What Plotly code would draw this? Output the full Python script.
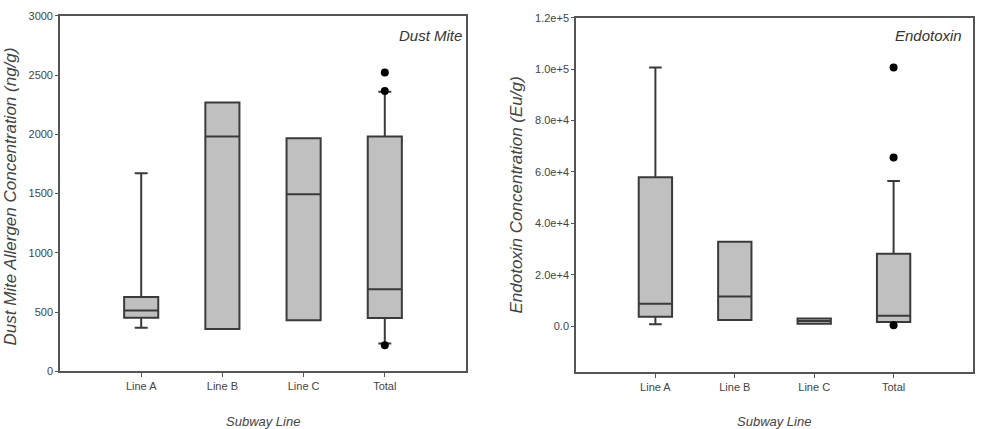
import plotly.graph_objects as go

categories = ["Line A", "Line B", "Line C", "Total"]

# Dust mite allergen (ng/g)
dm_q1 = [454, 358, 432, 451]
dm_median = [514, 1981, 1495, 694]
dm_q3 = [628, 2268, 1967, 1981]
dm_low = [369, 358, 432, 235]
dm_high = [1672, 2268, 1967, 2358]
dm_out_x = ["Total", "Total", "Total"]
dm_out_y = [2522, 2366, 222]

# Endotoxin (Eu/g)
en_q1 = [3660, 2400, 900, 1600]
en_median = [8700, 11500, 2000, 4050]
en_q3 = [57950, 32800, 3000, 28150]
en_low = [760, 2400, 900, 1600]
en_high = [100600, 32800, 3000, 56440]
en_out_x = ["Total", "Total", "Total"]
en_out_y = [100600, 65650, 400]

dm_ticks = [0, 500, 1000, 1500, 2000, 2500, 3000]
dm_ticktext = ["0", "500", "1000", "1500", "2000", "2500", "3000"]
en_ticks = [0, 20000, 40000, 60000, 80000, 100000, 120000]
en_ticktext = ["0.0", "2.0e+4", "4.0e+4", "6.0e+4", "8.0e+4", "1.0e+5", "1.2e+5"]

BOX_FILL = "#c0c0c0"
BOX_LINE = "#3a3a3a"
AXIS = "#555555"
TEXT = "#444444"
NARROW = "Liberation Sans Narrow, Arial Narrow, Liberation Sans, Arial"
REG = "Liberation Sans, Arial"

fig = go.Figure()


def add_panel(q1, med, q3, lo, hi, ox, oy, xa, ya):
    fig.add_trace(go.Box(
        x=categories, q1=q1, median=med, q3=q3, lowerfence=lo, upperfence=hi,
        fillcolor=BOX_FILL, line=dict(color=BOX_LINE, width=2),
        boxpoints=False, whiskerwidth=0.38, hoverinfo="skip",
        xaxis=xa, yaxis=ya, showlegend=False,
    ))
    fig.add_trace(go.Scatter(
        x=ox, y=oy, mode="markers",
        marker=dict(color="black", size=8, symbol="circle"),
        xaxis=xa, yaxis=ya, showlegend=False, hoverinfo="skip",
    ))


add_panel(dm_q1, dm_median, dm_q3, dm_low, dm_high, dm_out_x, dm_out_y, "x", "y")
add_panel(en_q1, en_median, en_q3, en_low, en_high, en_out_x, en_out_y, "x2", "y2")

W, H = 986, 429


def px_x(v):
    return v / W


def px_y(v):
    return 1 - v / H


xcommon = dict(
    type="category", categoryorder="array", categoryarray=categories,
    range=[-1, 4], showline=True, linecolor=AXIS, linewidth=1.6, mirror=True,
    ticks="outside", ticklen=4, tickcolor=AXIS, tickwidth=1.2,
    showgrid=False, zeroline=False,
    tickfont=dict(family=NARROW, size=11, color=TEXT),
)
ycommon = dict(
    showline=True, linecolor=AXIS, linewidth=1.6, mirror=True,
    ticks="outside", ticklen=3, tickcolor=AXIS, tickwidth=1.2,
    showgrid=False, zeroline=False,
    tickfont=dict(family=NARROW, size=11, color=TEXT),
)

fig.update_layout(
    width=W, height=H,
    margin=dict(l=0, r=0, t=0, b=0),
    paper_bgcolor="white", plot_bgcolor="white",
    boxgap=0.4,
    xaxis=dict(domain=[px_x(60), px_x(466)], anchor="y", **xcommon),
    yaxis=dict(domain=[px_y(376), px_y(10)], anchor="x", range=[0, 3000],
               tickvals=dm_ticks, ticktext=dm_ticktext, **ycommon),
    xaxis2=dict(domain=[px_x(576), px_x(973)], anchor="y2", **xcommon),
    yaxis2=dict(domain=[px_y(377), px_y(12)], anchor="x2", range=[-18000, 120000],
                tickvals=en_ticks, ticktext=en_ticktext, **ycommon),
    annotations=[
        dict(text="<i>Dust Mite</i>", x=px_x(464), y=px_y(30), xref="paper", yref="paper",
             xanchor="right", yanchor="middle", showarrow=False,
             font=dict(family=REG, size=15, color="#333333")),
        dict(text="<i>Endotoxin</i>", x=px_x(964), y=px_y(30), xref="paper", yref="paper",
             xanchor="right", yanchor="middle", showarrow=False,
             font=dict(family=REG, size=15, color="#333333")),
        dict(text="<i>Dust Mite Allergen Concentration (ng/g)</i>", x=px_x(11), y=px_y(196),
             xref="paper", yref="paper", xanchor="center", yanchor="middle",
             textangle=-90, showarrow=False,
             font=dict(family=REG, size=17, color=TEXT)),
        dict(text="<i>Endotoxin Concentration (Eu/g)</i>", x=px_x(517), y=px_y(195),
             xref="paper", yref="paper", xanchor="center", yanchor="middle",
             textangle=-90, showarrow=False,
             font=dict(family=REG, size=17, color=TEXT)),
        dict(text="<i>Subway Line</i>", x=px_x(263), y=px_y(418), xref="paper", yref="paper",
             xanchor="center", yanchor="top", showarrow=False,
             font=dict(family=REG, size=13, color=TEXT)),
        dict(text="<i>Subway Line</i>", x=px_x(774), y=px_y(418), xref="paper", yref="paper",
             xanchor="center", yanchor="top", showarrow=False,
             font=dict(family=REG, size=13, color=TEXT)),
    ],
)

fig.write_html("out.html")
